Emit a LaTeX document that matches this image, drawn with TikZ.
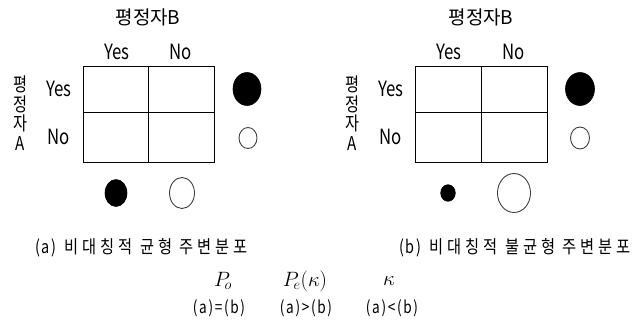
\documentclass[tikz,border=0pt]{standalone}
\usepackage{fontspec}
\setmainfont{Noto Sans CJK KR}
\newfontfamily\cond[FakeStretch=0.8]{Noto Sans CJK KR}
\newfontfamily\vcond[FakeStretch=0.8]{Noto Sans CJK KR}
\newfontfamily\capH[FakeStretch=0.85,LetterSpace=22]{Noto Sans CJK KR}
\newfontfamily\capP[FakeStretch=0.8,LetterSpace=10]{Noto Sans CJK KR}
\begin{document}
\begin{tikzpicture}[x=1pt,y=-1pt,
  title/.style={font=\fontsize{19}{19}\selectfont, inner sep=0pt},
  lbl/.style={font=\cond\fontsize{21}{21}\selectfont, inner sep=0pt},
  vlbl/.style={font=\vcond\fontsize{19}{19.5}\selectfont, inner sep=0pt, align=center},
  captn/.style={font=\fontsize{18}{18}\selectfont, inner sep=0pt},
  grid/.style={draw=black, line width=0.9pt},
  fullc/.style={fill=black, draw=black, line width=0.6pt},
  openc/.style={fill=white, draw=black!75, line width=0.9pt},
  mathl/.style={font=\fontsize{22}{22}\selectfont, inner sep=0pt},
  small/.style={font=\capP\fontsize{17}{17}\selectfont, inner sep=0pt}]
\useasboundingbox (0,0) rectangle (638,324);
% ---------- panel a ----------
\node[title] (ta) at (148,17) {평정자B};
\node[lbl] (ayc) at (117,52) {Yes};
\node[lbl] (anc) at (181,52) {No};
\node[lbl] (ayr) at (59,89) {Yes};
\node[lbl] (anr) at (59,137) {No};
\node[vlbl] (ava) at (20,113) {평\\정\\자\\A};
\draw[grid] (83,66) rectangle (214,162);
\draw[grid] (148.3,66) -- (148.3,162);
\draw[grid] (83,112) -- (214,112);
\draw[fullc] (247,89) ellipse [x radius=14, y radius=16.5];
\draw[openc] (248,138) ellipse [x radius=9, y radius=10.5];
\draw[fullc] (116,193) ellipse [x radius=11, y radius=13.5];
\draw[openc] (182,193) ellipse [x radius=12.5, y radius=15.5];
% ---------- panel b ----------
\node[title] (tb) at (481,17) {평정자B};
\node[lbl] (byc) at (449,52) {Yes};
\node[lbl] (bnc) at (514,52) {No};
\node[lbl] (byr) at (391,89) {Yes};
\node[lbl] (bnr) at (391,137) {No};
\node[vlbl] (bva) at (352,113) {평\\정\\자\\A};
\draw[grid] (415,66) rectangle (547,162);
\draw[grid] (481,66) -- (481,162);
\draw[grid] (415,112) -- (547,112);
\draw[fullc] (580,89) ellipse [x radius=14.5, y radius=16.5];
\draw[openc] (580,138) ellipse [x radius=9.5, y radius=11];
\draw[fullc] (448,193) ellipse [x radius=7.3, y radius=8.3];
\draw[openc] (514,193) ellipse [x radius=16.5, y radius=19.5];
% ---------- captions ----------
\node[captn, anchor=west] (ca) at (35,248) {{\capP (a)}\hspace{8pt}{\capH 비대칭적 균형 주변분포}};
\node[captn, anchor=west] (cb) at (399,248) {{\capP (b)}\hspace{8pt}{\capH 비대칭적 불균형 주변분포}};
\node[mathl] (po) at (223,281) {$P_{\!o}$};
\node[mathl] (pe) at (305,281) {$P_{\!e}(\kappa)$};
\node[mathl] (ka) at (389,281) {$\kappa$};
\node[small] (r1) at (219,308) {(a)=(b)};
\node[small] (r2) at (306,308) {(a)>(b)};
\node[small] (r3) at (392,308) {(a)<(b)};
\end{tikzpicture}
\end{document}
